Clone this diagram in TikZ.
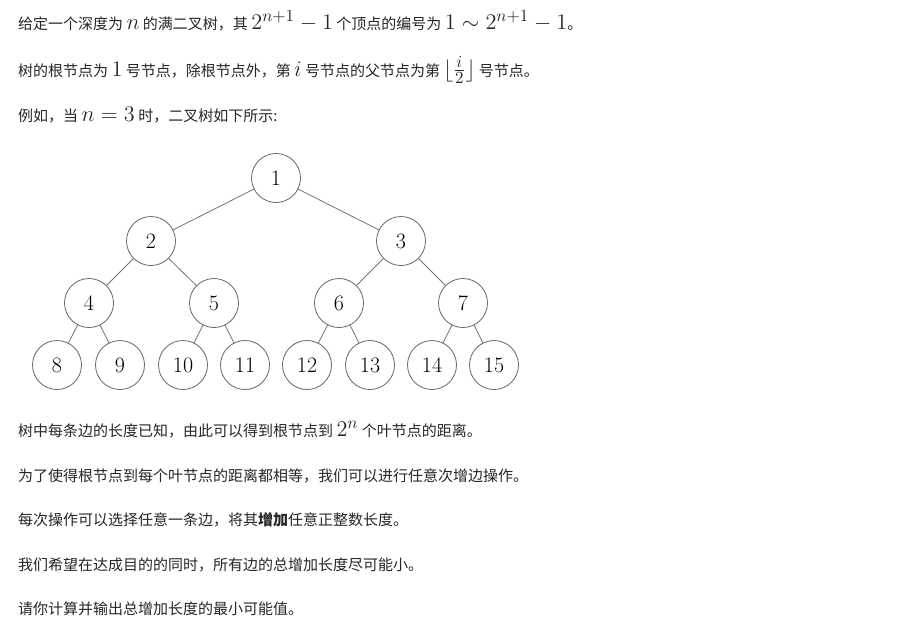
\documentclass[tikz,border=0pt]{standalone}
\usepackage{amsmath}
\usepackage{fontspec}
\newfontfamily\cj{Noto Sans CJK SC}
\newcommand\mth[1]{\scalebox{1.55}{$#1$}}
\begin{document}
\begin{tikzpicture}[x=1pt,y=-1pt,
  txt/.style={anchor=west,inner sep=0pt,font=\cj\fontsize{15}{18}\selectfont,text=black!85},
  tn/.style={circle,draw=black!60,line width=0.8pt,minimum size=49pt,inner sep=0pt,font=\fontsize{22}{24}\selectfont},
  ed/.style={draw=black!55,line width=0.8pt}]
\useasboundingbox (0,0) rectangle (910,633);
\node[txt] (t1) at (18,21) {给定一个深度为 \mth{n} 的满二叉树，其 \mth{2^{n+1}-1} 个顶点的编号为 \mth{1\sim 2^{n+1}-1}。};
\node[txt] (t2) at (18,70) {树的根节点为 \mth{1} 号节点，除根节点外，第 \mth{i} 号节点的父节点为第 \mth{\lfloor\frac{i}{2}\rfloor} 号节点。};
\node[txt] (t3) at (18,115) {例如，当 \mth{n=3} 时，二叉树如下所示:};
\node[tn] (n1) at (276,178) {1};
\node[tn] (n2) at (151,241) {2};
\node[tn] (n3) at (401,241) {3};
\node[tn] (n4) at (89,303) {4};
\node[tn] (n5) at (214,303) {5};
\node[tn] (n6) at (339,303) {6};
\node[tn] (n7) at (463,303) {7};
\node[tn] (n8) at (57,365) {8};
\node[tn] (n9) at (120,365) {9};
\node[tn] (n10) at (183,365) {10};
\node[tn] (n11) at (245,365) {11};
\node[tn] (n12) at (307,365) {12};
\node[tn] (n13) at (370,365) {13};
\node[tn] (n14) at (432,365) {14};
\node[tn] (n15) at (494,365) {15};
\foreach \p/\c in {1/2,1/3,2/4,2/5,3/6,3/7,4/8,4/9,5/10,5/11,6/12,6/13,7/14,7/15}
  \draw[ed] (n\p) -- (n\c);
\node[txt] (t4) at (18,430) {树中每条边的长度已知，由此可以得到根节点到 \mth{2^n} 个叶节点的距离。};
\node[txt] (t5) at (18,476) {为了使得根节点到每个叶节点的距离都相等，我们可以进行任意次增边操作。};
\node[txt] (t6) at (18,520) {每次操作可以选择任意一条边，将其\textbf{增加}任意正整数长度。};
\node[txt] (t7) at (18,565) {我们希望在达成目的的同时，所有边的总增加长度尽可能小。};
\node[txt] (t8) at (18,609) {请你计算并输出总增加长度的最小可能值。};
\end{tikzpicture}
\end{document}
